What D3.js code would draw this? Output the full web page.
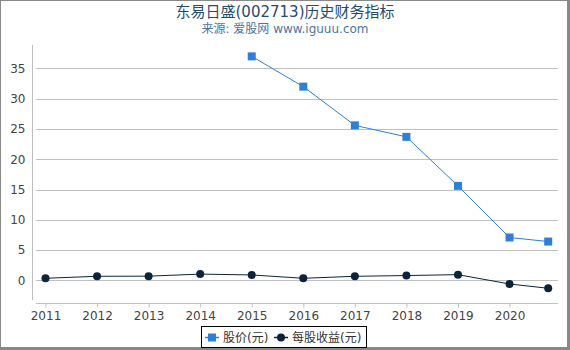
<!DOCTYPE html>
<html><head><meta charset="utf-8">
<script src="https://cdn.jsdelivr.net/npm/d3@7/dist/d3.min.js"></script>
<style>body{margin:0;background:#fff}svg{display:block;font-family:"DejaVu Sans","Noto Sans CJK SC",sans-serif}</style>
</head><body><svg id="c" width="570" height="350"></svg>
<script>
const priceYears = [2015, 2016, 2017, 2018, 2019, 2020, 2020.75];
const priceValues = [37.0, 32.0, 25.6, 23.7, 15.6, 7.07, 6.4];
const epsYears = [2011, 2012, 2013, 2014, 2015, 2016, 2017, 2018, 2019, 2020, 2020.75];
const epsValues = [0.33, 0.66, 0.68, 1.02, 0.88, 0.33, 0.66, 0.78, 0.93, -0.61, -1.32];
const xTicks = [2011, 2012, 2013, 2014, 2015, 2016, 2017, 2018, 2019, 2020];
const yTicks = [0, 5, 10, 15, 20, 25, 30, 35];
const title = "东易日盛(002713)历史财务指标";
const subtitle = "来源: 爱股网 www.iguuu.com";
const seriesNames = ["股价(元)", "每股收益(元)"];

const svg = d3.select("#c");
const x = d3.scaleLinear().domain([2010.75, 2020.94]).range([32.6, 558]);
const y = d3.scaleLinear().domain([-3.92, 38.88]).range([304, 45]);

// frame
svg.append("rect").attr("x",0.5).attr("y",0.5).attr("width",567).attr("height",347)
  .attr("fill","none").attr("stroke","#888").attr("stroke-width",1);
svg.append("line").attr("x1",568.5).attr("x2",568.5).attr("y1",0).attr("y2",350).attr("stroke","#888").attr("stroke-width",3);
svg.append("line").attr("x1",0).attr("x2",570).attr("y1",348.5).attr("y2",348.5).attr("stroke","#888").attr("stroke-width",3);

// title
svg.append("text").attr("x",285).attr("y",16.5).attr("text-anchor","middle")
  .attr("fill","#274b6d").style("font-size","15px").text(title);
svg.append("text").attr("x",285).attr("y",33).attr("text-anchor","middle")
  .attr("fill","#4d759e").style("font-size","12px").text(subtitle);

// grid
svg.append("g").selectAll("line").data(yTicks).join("line")
  .attr("x1",36).attr("x2",558)
  .attr("y1",d=>Math.round(y(d))+0.5).attr("y2",d=>Math.round(y(d))+0.5)
  .attr("stroke","#c0c0c0").attr("stroke-width",1);

// y axis
const ya = svg.append("g").attr("transform","translate(32.5,0)")
  .call(d3.axisLeft(y).tickValues(yTicks).tickSize(0).tickPadding(7));
ya.select(".domain").remove();
ya.selectAll("text").style("font-size","12px").attr("fill","#444").style("font-family","DejaVu Sans");
svg.append("line").attr("x1",32.5).attr("x2",32.5).attr("y1",45).attr("y2",300).attr("stroke","#c0c0c0");

// x axis
const xa = svg.append("g").attr("transform","translate(0,303.5)")
  .call(d3.axisBottom(x).tickValues(xTicks).tickFormat(d3.format("d")).tickSize(4).tickPadding(4));
xa.select(".domain").attr("d","M36,0H558").attr("stroke","#c0c0c0");
xa.selectAll(".tick line").attr("stroke","#c0c0c0");
xa.selectAll("text").style("font-size","12px").attr("fill","#444").style("font-family","DejaVu Sans");

const priceData = priceYears.map((d,i)=>[d,priceValues[i]]);
const epsData = epsYears.map((d,i)=>[d,epsValues[i]]);
const line = d3.line().x(d=>x(d[0])).y(d=>y(d[1]));

svg.append("path").attr("d",line(priceData)).attr("fill","none").attr("stroke","#2f7ed8").attr("stroke-width",1);
svg.append("g").selectAll("rect").data(priceData).join("rect")
  .attr("x",d=>x(d[0])-4).attr("y",d=>y(d[1])-4).attr("width",8).attr("height",8).attr("fill","#2f7ed8");

svg.append("path").attr("d",line(epsData)).attr("fill","none").attr("stroke","#0d233a").attr("stroke-width",1);
svg.append("g").selectAll("circle").data(epsData).join("circle")
  .attr("cx",d=>x(d[0])).attr("cy",d=>y(d[1])).attr("r",4).attr("fill","#0d233a");

// legend
const lg = svg.append("g");
lg.append("rect").attr("x",201.5).attr("y",326.5).attr("width",165).attr("height",21)
  .attr("fill","#fff").attr("stroke","#000").attr("stroke-width",1);
lg.append("line").attr("x1",205).attr("x2",219).attr("y1",337.5).attr("y2",337.5).attr("stroke","#2f7ed8").attr("stroke-width",1.5);
lg.append("rect").attr("x",208).attr("y",333.5).attr("width",8).attr("height",8).attr("fill","#2f7ed8");
lg.append("text").attr("x",223).attr("y",342).attr("fill","#333").style("font-size","12px").text(seriesNames[0]);
lg.append("line").attr("x1",274).attr("x2",288).attr("y1",337.5).attr("y2",337.5).attr("stroke","#0d233a").attr("stroke-width",1.5);
lg.append("circle").attr("cx",281).attr("cy",337.5).attr("r",4).attr("fill","#0d233a");
lg.append("text").attr("x",292).attr("y",342).attr("fill","#333").style("font-size","12px").text(seriesNames[1]);
</script></body></html>
